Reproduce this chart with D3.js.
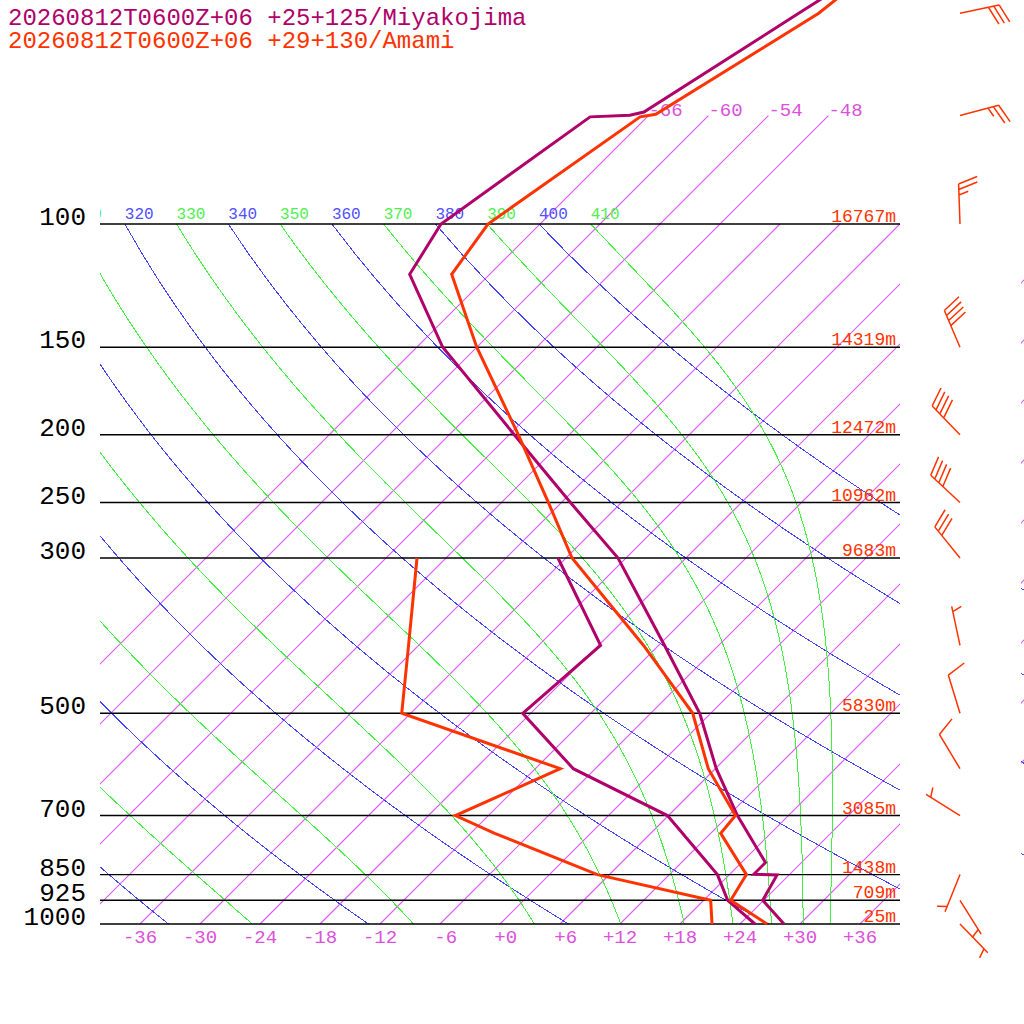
<!DOCTYPE html>
<html>
<head>
<meta charset="utf-8">
<script src="https://cdn.jsdelivr.net/npm/d3@7"></script>
<style>
html, body { margin: 0; padding: 0; background: #fff; }
svg { display: block; }
text { font-family: "Liberation Mono", "DejaVu Sans Mono", monospace; }
</style>
</head>
<body>
<div id="chart"></div>
<script>
'use strict';

/*
Skew-T, two stations
 */

// Data
const titles = ['20260812T0600Z+06 +25+125/Miyakojima', '20260812T0600Z+06 +29+130/Amami'];
const isobarLevels = [1000, 925, 850, 700, 500, 300, 250, 200, 150, 100];
const amamiHeights = ['25m', '709m', '1438m', '3085m', '5830m', '9683m', '10962m', '12472m', '14319m', '16767m'];
const tempTicks = [-36, -30, -24, -18, -12, -6, 0, 6, 12, 18, 24, 30, 36];
const isotherms = [-66, -60, -54, -48, -42, -36, -30, -24, -18, -12, -6, 0, 6, 12, 18, 24, 30, 36];
const dryThetas = [240, 260, 280, 300, 320, 340, 360, 380, 400];
const moistThetas = [250, 270, 290, 310, 330, 350, 370, 390, 410];

// [pressure hPa, degC]
const miyakoTemp = [[1000, 28.4], [925, 23.9], [851, 22.8], [849, 20.4], [817, 20.4], [700, 12.9],
    [600, 6.1], [500, -1.1], [400, -11.4], [300, -24.8], [250, -35.1], [200, -47.5], [150, -63.4],
    [118, -74.0], [100, -75.9], [70.3, -71.7], [69.9, -67.9], [69.2, -66.8], [50, -61.2], [40, -57.3]];
const miyakoDew = [[1000, 25.5], [925, 20.4], [850, 16.8], [700, 5.9], [600, -8.2], [500, -18.8],
    [400, -17.8], [300, -30.8]];
const amamiTemp = [[1000, 26.7], [925, 20.7], [850, 19.7], [742, 13.0], [700, 12.7], [600, 5.3],
    [500, -1.8], [400, -13.5], [300, -29.4], [250, -37.3], [200, -47.1], [150, -60.0], [118, -69.8],
    [100, -71.2], [70.3, -66.7], [69.7, -65.4], [50, -59.2], [40, -57.5]];
const amamiDew = [[1000, 21.2], [925, 18.7], [850, 4.8], [742, -9.6], [700, -15.3], [600, -9.5],
    [500, -30.9], [400, -37.0], [300, -44.9]];

const windLevels = [1000, 925, 850, 700, 600, 500, 400, 300, 250, 200, 150, 100, 70, 50];
const amamiWindDir = [136, 148, 202, 302, 329, 343, 348, 321, 313, 316, 337, 358, 75, 78];
const amamiWindSpd = [5, 5, 5, 5, 10, 10, 5, 30, 40, 40, 40, 25, 25, 30];

// Configs
const svgW = 1024, svgH = 1024;
const plot = {left: 100, right: 900, top: 224, bottom: 924};
const miyakoColor = 'rgb(176, 0, 106)';
const amamiColor = 'rgb(255, 51, 0)';
const isoColor = '#dc5cf4';
const dryColor = 'rgb(68, 68, 255)';
const moistColor = 'rgb(68, 240, 68)';
const barbX = 960;

// Tools
const yScale = d3.scaleLog().domain([1000, 100]).range([plot.bottom, plot.top]);
const tScale = d3.scaleLinear().domain([-40, 40]).range([plot.left, plot.right]);
const skewX = (t, p) => tScale(t) + (plot.bottom - yScale(p));
const profileLine = d3.line()
    .x(d => skewX(d[1], d[0]))
    .y(d => yScale(d[0]));

// Moist (pseudo) adiabat, integrated from 100 hPa down to 1000 hPa
function moistLapse(p, tK) {
    const Rd = 287.04, cp = 1005.7, Lv = 2.501e6, eps = 0.622;
    const tc = tK - 273.15;
    const es = 6.112 * Math.exp(17.67 * tc / (tc + 243.5));
    const rs = eps * es / (p - es);
    return (Rd * tK + Lv * rs) / (p * (cp + Lv * Lv * rs * eps / (Rd * tK * tK)));
}
function moistAdiabat(theta) {
    let tK = theta * Math.pow(0.1, 0.286);
    const pts = [[100, tK - 273.15]];
    const dp = 5;
    for (let p = 100; p < 1000; p += dp) {
        const k1 = moistLapse(p, tK);
        const k2 = moistLapse(p + dp / 2, tK + k1 * dp / 2);
        const k3 = moistLapse(p + dp / 2, tK + k2 * dp / 2);
        const k4 = moistLapse(p + dp, tK + k3 * dp);
        tK += dp * (k1 + 2 * k2 + 2 * k3 + k4) / 6;
        pts.push([p + dp, tK - 273.15]);
    }
    return pts;
}
function dryAdiabat(theta) {
    return d3.range(1000, 99, -10).map(p => [p, theta * Math.pow(p / 1000, 0.286) - 273.15]);
}

// Set up svg
const svg = d3.select('#chart')
    .append('svg')
    .attr('width', svgW)
    .attr('height', svgH);

const defs = svg.append('defs');
const clip = defs.append('clipPath').attr('id', 'plotClip');
clip.append('rect').attr('x', plot.left).attr('y', 0).attr('width', plot.right - plot.left).attr('height', plot.bottom);
clip.append('rect').attr('x', 1021).attr('y', plot.top).attr('width', 3).attr('height', plot.bottom - plot.top);

const gridG = svg.append('g').attr('clip-path', 'url(#plotClip)');

// Isotherms: thin filled bands, from 1000 hPa to the top of each line
const isothermSegs = isotherms.map(t => ({t: t, pTop: t <= -48 ? 70 : 100}));
const bandHalf = 0.6;
gridG.selectAll('.isotherm')
    .data(isothermSegs)
    .join('polygon')
    .attr('class', 'isotherm')
    .attr('points', d => {
        const x1 = skewX(d.t, 1000), y1 = yScale(1000);
        const x2 = skewX(d.t, d.pTop), y2 = yScale(d.pTop);
        const len = Math.hypot(x2 - x1, y2 - y1);
        const nx = -(y2 - y1) / len * bandHalf, ny = (x2 - x1) / len * bandHalf;
        return [[x1 + nx, y1 + ny], [x2 + nx, y2 + ny], [x2 - nx, y2 - ny], [x1 - nx, y1 - ny]]
            .map(q => q.join(',')).join(' ');
    })
    .attr('fill', isoColor)
    .attr('stroke', 'none');

// Dry adiabats
gridG.selectAll('.dry')
    .data(dryThetas)
    .join('path')
    .attr('class', 'dry')
    .attr('d', th => profileLine(dryAdiabat(th)))
    .attr('fill', 'none')
    .attr('stroke', dryColor)
    .attr('stroke-width', 1)
    .attr('shape-rendering', 'crispEdges');

// Moist adiabats
const moistLines = moistThetas.map(th => ({theta: th, pts: moistAdiabat(th)}));
gridG.selectAll('.moist')
    .data(moistLines)
    .join('path')
    .attr('class', 'moist')
    .attr('d', d => profileLine(d.pts))
    .attr('fill', 'none')
    .attr('stroke', moistColor)
    .attr('stroke-width', 1)
    .attr('shape-rendering', 'crispEdges');

// Theta labels at 100 hPa (only those reaching into the plot)
const thetaLabels = dryThetas.map(th => ({theta: th, t: th * Math.pow(0.1, 0.286) - 273.15, color: 'rgb(80, 80, 255)'}))
    .concat(moistLines.map(d => ({theta: d.theta, t: d.pts[0][1], color: 'rgb(80, 240, 80)'})))
    .filter(d => skewX(d.t, 100) > 60);
gridG.selectAll('.thetaLabel')
    .data(thetaLabels)
    .join('text')
    .attr('class', 'thetaLabel')
    .attr('x', d => skewX(d.t, 100))
    .attr('y', yScale(100) - 5)
    .attr('font-size', 16)
    .attr('fill', d => d.color)
    .text(d => d.theta);

// Isotherm labels above 100 hPa
gridG.selectAll('.isoLabel')
    .data(isothermSegs.filter(d => d.pTop === 70))
    .join('text')
    .attr('class', 'isoLabel')
    .attr('x', d => skewX(d.t, 70))
    .attr('y', yScale(70))
    .attr('font-size', 19)
    .attr('fill', 'rgb(220, 80, 220)')
    .text(d => d.t);

// Isobars
svg.selectAll('.isobar')
    .data(isobarLevels)
    .join('line')
    .attr('class', 'isobar')
    .attr('x1', plot.left)
    .attr('x2', plot.right)
    .attr('y1', p => yScale(p))
    .attr('y2', p => yScale(p))
    .attr('stroke', '#000')
    .attr('stroke-width', 1.4);

// Pressure labels
svg.selectAll('.pLabel')
    .data(isobarLevels)
    .join('text')
    .attr('class', 'pLabel')
    .attr('x', 86)
    .attr('y', p => yScale(p) + 1)
    .attr('text-anchor', 'end')
    .attr('font-size', 26)
    .attr('fill', '#000')
    .text(p => p);

// Height labels
svg.selectAll('.hLabel')
    .data(isobarLevels)
    .join('text')
    .attr('class', 'hLabel')
    .attr('x', 896)
    .attr('y', p => yScale(p) - 2)
    .attr('text-anchor', 'end')
    .attr('font-size', 18)
    .attr('fill', amamiColor)
    .text((p, i) => amamiHeights[i]);

// Temperature labels at bottom (3 character cells, centred)
const cw = 19 * 0.6;
svg.selectAll('.tLabel')
    .data(tempTicks)
    .join('text')
    .attr('class', 'tLabel')
    .attr('x', t => tScale(t) + 1.5 * cw)
    .attr('y', 943)
    .attr('text-anchor', 'end')
    .attr('font-size', 19)
    .attr('fill', 'rgb(220, 80, 220)')
    .text(t => (t >= 0 ? '+' : '') + t);

// Profiles
const profiles = [
    {data: miyakoTemp, color: miyakoColor},
    {data: miyakoDew, color: miyakoColor},
    {data: amamiTemp, color: amamiColor},
    {data: amamiDew, color: amamiColor}
];
svg.selectAll('.profile')
    .data(profiles)
    .join('path')
    .attr('class', 'profile')
    .attr('d', d => profileLine(d.data))
    .attr('fill', 'none')
    .attr('stroke', d => d.color)
    .attr('stroke-width', 3)
    .attr('stroke-linejoin', 'miter');

// Wind barbs
function barbPath(x0, y0, dir, spd) {
    const a = dir * Math.PI / 180;
    const ux = Math.sin(a), uy = -Math.cos(a);
    const stem = 40, gap = 5.5, full = 20, half = 10, rot = 70 * Math.PI / 180;
    const bx = ux * Math.cos(rot) - uy * Math.sin(rot);
    const by = ux * Math.sin(rot) + uy * Math.cos(rot);
    let d = `M${x0},${y0}L${x0 + ux * stem},${y0 + uy * stem}`;
    const nFull = Math.floor(spd / 10);
    const hasHalf = spd % 10 >= 5;
    let i = (nFull === 0 && hasHalf) ? 1 : 0;
    const addBarb = len => {
        const s = stem - i * gap;
        const sx = x0 + ux * s, sy = y0 + uy * s;
        d += `M${sx},${sy}L${sx + bx * len},${sy + by * len}`;
        i++;
    };
    for (let k = 0; k < nFull; k++) addBarb(full);
    if (hasHalf) addBarb(half);
    return d;
}
svg.selectAll('.barb')
    .data(windLevels)
    .join('path')
    .attr('class', 'barb')
    .attr('d', (p, i) => barbPath(barbX, yScale(p), amamiWindDir[i], amamiWindSpd[i]))
    .attr('fill', 'none')
    .attr('stroke', amamiColor)
    .attr('stroke-width', 1.5);

// Titles
svg.selectAll('.title')
    .data(titles)
    .join('text')
    .attr('class', 'title')
    .attr('x', 8)
    .attr('y', (d, i) => 25 + i * 23)
    .attr('font-size', 24)
    .attr('fill', (d, i) => i === 0 ? miyakoColor : amamiColor)
    .text(d => d);
</script>
</body>
</html>
